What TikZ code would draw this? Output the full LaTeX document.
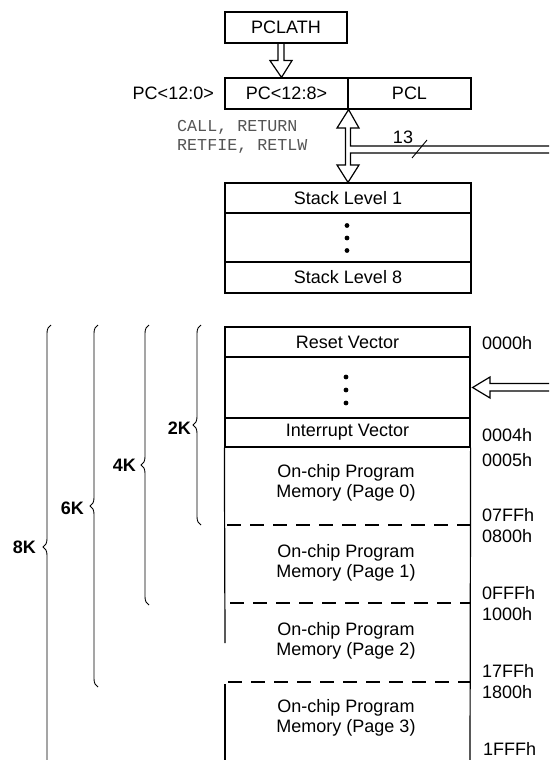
\documentclass[tikz,border=0pt]{standalone}
\usepackage{fontspec}
\setmainfont{Liberation Sans}
\newfontfamily\monofont{Liberation Mono}
\usetikzlibrary{decorations.pathreplacing,calc}
\definecolor{cmdgray}{HTML}{555555}
\begin{document}
\begin{tikzpicture}[x=1pt,y=-1pt,
  lbl/.style={font=\fontsize{18}{20}\selectfont, inner sep=0pt},
  box/.style={lbl, draw, line width=1.2pt, minimum width=#1},
  box/.default=246pt,
  memtxt/.style={lbl, align=center},
  addr/.style={lbl, anchor=west},
  cmd/.style={font=\monofont\fontsize{16.7}{19}\selectfont, text=cmdgray, inner sep=0pt, anchor=base west},
  klabel/.style={font=\bfseries\fontsize{18}{20}\selectfont, inner sep=0pt, anchor=east},
  kbrace/.style={decorate, decoration={brace, amplitude=8pt}, line width=0.9pt},
  bus/.style={line width=1.2pt, line join=miter},
  dotmark/.style={fill=black},
  sep/.style={line width=1.2pt},
  pagesep/.style={line width=1.2pt, dash pattern=on 14pt off 9pt}
]
\useasboundingbox (0,0) rectangle (549,760);
\clip (0,0) rectangle (549,760);

% ---------- PC section ----------
\node[box=122pt, minimum height=31pt] (pclath) at (286,27.5) {PCLATH};
\node[box=123pt, minimum height=31pt] (pchi) at (286.5,93.5) {PC<12:8>};
\node[box=123pt, minimum height=31pt] (pcl) at (409.5,93.5) {PCL};
\node[lbl, anchor=east] (pclab) at (214,93.5) {PC<12:0>};

% PCLATH -> PC hollow arrow
\coordinate (pa) at ($(pclath.south)+(-5,0)$);
\coordinate (pt) at ($(pchi.north)+(-5,0)$);
\draw[bus] ($(pa)+(-3,0)$) -- ($(pa)+(-3,17)$) -- ($(pa)+(-11,17)$) -- (pt)
  -- ($(pa)+(11,17)$) -- ($(pa)+(3,17)$) -- ($(pa)+(3,0)$);

% CALL / RETURN text
\node[cmd] (call1) at (177,131.5) {CALL, RETURN};
\node[cmd] (call2) at (177,150.5) {RETFIE, RETLW};

% Stack
\node[box, minimum height=30pt] (s1) at (348,198) {Stack Level 1};
\node[box, minimum height=49pt] (sdots) at (348,237.5) {};
\node[box, minimum height=31pt] (s8) at (348,277.5) {Stack Level 8};
\fill[dotmark] (347,225.5) circle (2.4pt) (347,238) circle (2.4pt) (347,250.5) circle (2.4pt);

% double arrow PC <-> stack with 13-bit bus
\coordinate (up) at (pchi.south east);
\coordinate (dn) at (s1.north);
\coordinate (busT) at (549,146);
\coordinate (busB) at (549,153);
\draw[bus] (busT) -- (350.5,146) -- (350.5,128) -- (359,128) -- (up) -- (337,128)
  -- (345.5,128) -- (345.5,165) -- (337,165) -- (dn) -- (359,165) -- (350.5,165)
  -- (350.5,153) -- (busB);
\draw[line width=0.9pt] (412,158) -- (427,140);
\node[lbl] (bw) at (403,137.5) {13};

% ---------- Program memory ----------
\node[box=245pt, minimum height=30pt] (reset) at (347.5,342) {Reset Vector};
\node[box=245pt, minimum height=61pt] (mdots) at (347.5,387.5) {};
\node[box=245pt, minimum height=29pt] (intv) at (347.5,432.5) {Interrupt Vector};
\fill[dotmark] (346,377) circle (2.4pt) (346,390) circle (2.4pt) (346,403) circle (2.4pt);

\node[memtxt] (p0) at (346,483) {On-chip Program\\Memory (Page 0)};
\node[memtxt] (p1) at (346,562.5) {On-chip Program\\Memory (Page 1)};
\node[memtxt] (p2) at (346,641) {On-chip Program\\Memory (Page 2)};
\node[memtxt] (p3) at (346,717.5) {On-chip Program\\Memory (Page 3)};

\draw[sep] (intv.south east) -- (470,765);
\draw[sep] (intv.south west) -- (225,643);
\draw[sep] (225,684) -- (225,765);
\draw[pagesep] (227,525) -- (470,525);
\draw[pagesep] (230,603) -- (470,603);
\draw[pagesep] (228,682) -- (470,682);

% arrow into memory
\coordinate (mt) at ($(mdots.east)+(2,0)$);
\draw[bus] (549,383.5) -- (490,383.5) -- (490,377) -- (mt) -- (490,398) -- (490,391) -- (549,391);

% addresses
\node[addr] (a0) at (482,343) {0000h};
\node[addr] (a4) at (482,435) {0004h};
\node[addr] (a5) at (482,460) {0005h};
\node[addr] (a7) at (482,515) {07FFh};
\node[addr] (a8) at (482,536) {0800h};
\node[addr] (af) at (482,593) {0FFFh};
\node[addr] (a10) at (482,614) {1000h};
\node[addr] (a17) at (482,671) {17FFh};
\node[addr] (a18) at (482,692) {1800h};
\node[addr] (a1f) at (483,749) {1FFFh};

% ---------- size braces ----------
\draw[kbrace] (201,525) -- (201,325);
\node[klabel] (k2) at (191,428) {2K};
\draw[kbrace] (149,605) -- (149,325);
\node[klabel] (k4) at (136,465) {4K};
\draw[kbrace] (98,687) -- (98,325);
\node[klabel] (k6) at (84,508) {6K};
\draw[kbrace] (51,769) -- (51,325);
\node[klabel] (k8) at (36,547) {8K};
\end{tikzpicture}
\end{document}
